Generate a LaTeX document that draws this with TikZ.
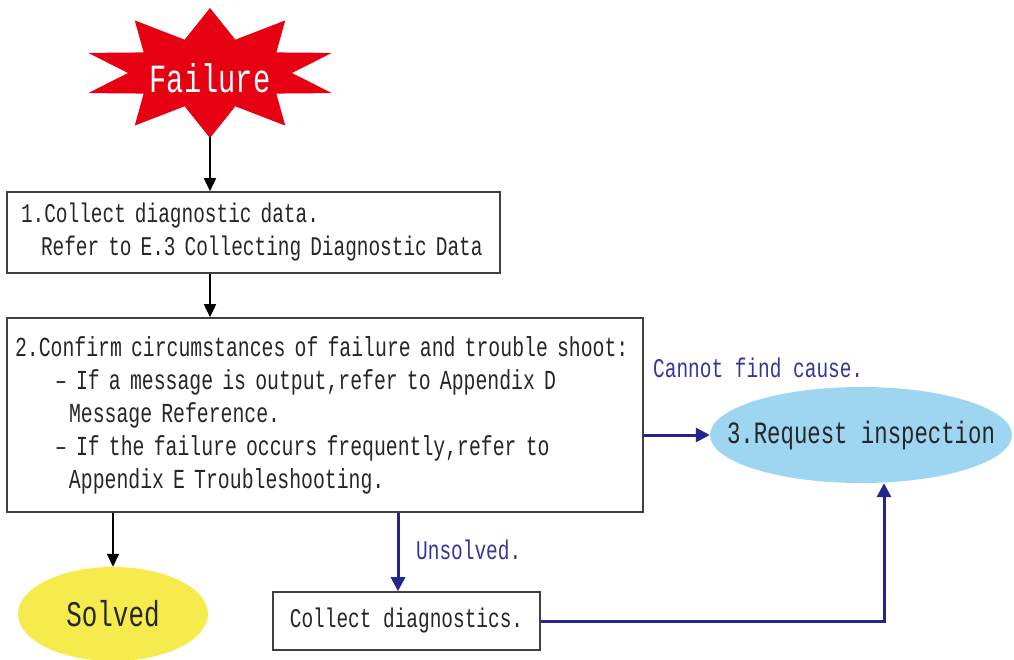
\documentclass[tikz,border=0pt]{standalone}
\usepackage{fontspec}
\setmainfont[FakeStretch=0.72]{Liberation Mono}
\usetikzlibrary{arrows.meta,shapes.geometric}

\definecolor{failred}{HTML}{E60012}
\definecolor{solvedyellow}{HTML}{F6EB4C}
\definecolor{requestblue}{HTML}{9ED6F2}
\definecolor{flownavy}{HTML}{25258F}
\definecolor{labelblue}{HTML}{35359A}

\tikzset{
  stepbox/.style={draw=black!75, line width=1.6pt, fill=white, inner ysep=0pt,
    align=left, text=black!85, font=\fontsize{27}{33}\selectfont},
  blkarrow/.style={draw=black, line width=1.6pt, -{Triangle[length=13pt,width=12pt]}},
  bluearrow/.style={draw=flownavy, line width=3pt, -{Triangle[length=14pt,width=14pt]}},
  bluelabel/.style={text=labelblue, anchor=west, inner sep=0pt, font=\fontsize{27}{33}\selectfont}
}

\begin{document}
\begin{tikzpicture}[x=1pt,y=-1pt]
      \useasboundingbox (0,0) rectangle (1014,660);
      % the failure star
      \fill[failred] (210,8)
        \foreach \a in {0,36,...,324} {
          -- ({210+128*cos(90+\a)},{73-65*sin(90+\a)})
          -- ({210+82*cos(108+\a)},{73-35*sin(108+\a)})
        } -- cycle;
      \node (fail) at (210,78) [text=white, font=\fontsize{40}{40}\selectfont] {Failure};
      \coordinate (failtip) at (210,137);
      % steps
      \node (collect) at (253.5,232.5) [stepbox, text width=465pt, inner xsep=14pt, minimum height=81pt]
        {1.Collect diagnostic data.\\\hspace*{20pt}Refer to E.3 Collecting Diagnostic Data};
      \node (confirm) at (325,415) [stepbox, text width=628pt, inner xsep=4pt, minimum height=194pt,
        font=\fontsize{27.5}{33}\selectfont]
        {\hspace*{4pt}2.Confirm circumstances of failure and trouble shoot:\\
         \hspace*{44pt}– If a message is output,refer to Appendix D\\
         \hspace*{58pt}Message Reference.\\
         \hspace*{44pt}– If the failure occurs frequently,refer to\\
         \hspace*{58pt}Appendix E Troubleshooting.};
      \node (diag) at (406.5,621) [stepbox, minimum width=267pt, minimum height=58pt, align=center]
        {Collect diagnostics.};
      \fill[requestblue] (861,435) ellipse [x radius=151, y radius=48];
      \node (request) at (861,435) [minimum width=302pt, minimum height=96pt, inner sep=0pt,
        text=black!85, font=\fontsize{31}{31}\selectfont] {3.Request inspection};
      \node (solved) at (113,614) [ellipse, fill=solvedyellow, minimum width=190pt, minimum height=94pt,
        inner sep=0pt, text=black!85, font=\fontsize{36}{36}\selectfont] {Solved};
      % labels
      \node (cannot) at (653,368) [bluelabel] {Cannot find cause.};
      \node (unsolved) at (416,550) [bluelabel] {Unsolved.};
      \begin{scope}[blkarrow]
        \draw (failtip) to (collect.north -| failtip);
        \draw (collect.south -| failtip) to (confirm.north -| failtip);
        \draw (confirm.south -| solved) to (solved.north);
      \end{scope}
      \begin{scope}[bluearrow]
        \draw (confirm.east |- request) to (request.west);
        \draw (confirm.south -| 398,0) to (diag.north -| 398,0);
        \draw (diag.east) -| ([xshift=23pt]request.south);
      \end{scope}
    \end{tikzpicture}
\end{document}
